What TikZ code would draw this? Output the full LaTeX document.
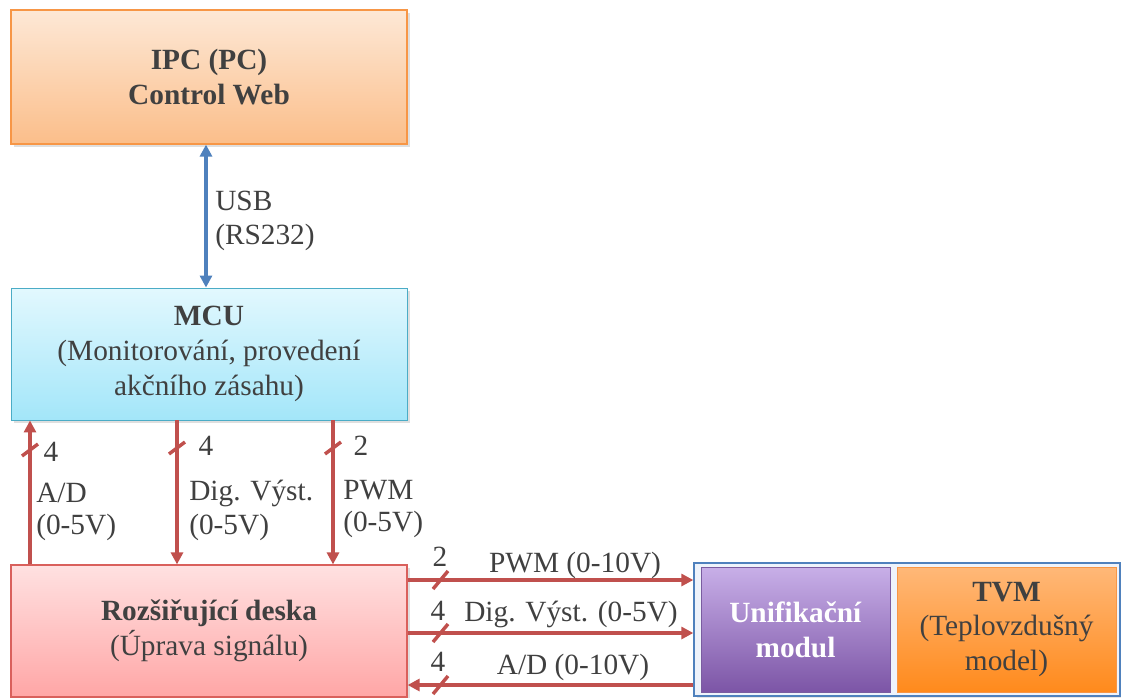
\documentclass[tikz,border=0pt]{standalone}
\usepackage{fontspec}
\setmainfont{Liberation Serif}
\usetikzlibrary{arrows.meta,shadows}

\definecolor{txt}{HTML}{404040}
\definecolor{sigred}{HTML}{C0504D}
\definecolor{usbblue}{HTML}{4F81BD}
\definecolor{ipctop}{HTML}{FDE8D6}
\definecolor{ipcbot}{HTML}{FBBE8A}
\definecolor{ipcline}{HTML}{F79646}
\definecolor{mcutop}{HTML}{E2F8FE}
\definecolor{mcubot}{HTML}{A3E6F9}
\definecolor{mculine}{HTML}{4BACC6}
\definecolor{dsktop}{HTML}{FFE1E1}
\definecolor{dskbot}{HTML}{FFA6A6}
\definecolor{dskline}{HTML}{D9605C}
\definecolor{grpfill}{HTML}{EEF3FB}
\definecolor{unitop}{HTML}{C8AFE8}
\definecolor{unibot}{HTML}{7C55A6}
\definecolor{uniline}{HTML}{7A5CA0}
\definecolor{tvmtop}{HTML}{FFB878}
\definecolor{tvmbot}{HTML}{FF8A1C}

\tikzset{
  x=0.75pt, y=-0.75pt,
  every node/.style={text=txt, font=\fontsize{22}{26}\selectfont},
  blockbox/.style={inner sep=0pt, align=center, line width=0.9pt,
    drop shadow={shadow xshift=2pt, shadow yshift=-2pt, opacity=0.25}},
  ipcbox/.style={blockbox, draw=ipcline, top color=ipctop, bottom color=ipcbot},
  mcubox/.style={blockbox, draw=mculine, line width=0.7pt, top color=mcutop, bottom color=mcubot},
  deskabox/.style={blockbox, draw=dskline, top color=dsktop, bottom color=dskbot},
  groupbox/.style={inner sep=0pt, draw=usbblue, line width=1pt, fill=grpfill,
    drop shadow={shadow xshift=2pt, shadow yshift=-2pt, opacity=0.2}},
  unibox/.style={inner sep=0pt, align=center, draw=uniline, line width=0.7pt,
    top color=unitop, bottom color=unibot, text=white},
  tvmbox/.style={inner sep=0pt, align=center, draw=ipcline, line width=0.7pt,
    top color=tvmtop, bottom color=tvmbot},
  sig/.style={draw=sigred, line width=3pt, -{Triangle[length=9pt,width=9pt]}},
  usb/.style={draw=usbblue, line width=3pt, {Triangle[length=9pt,width=9pt]}-{Triangle[length=9pt,width=9pt]}},
  tick/.style={draw=sigred, line width=2.6pt},
  lbl/.style={inner sep=0pt, anchor=west, align=left},
  num/.style={inner sep=0pt},
}

\begin{document}
\begin{tikzpicture}
\useasboundingbox (0,0) rectangle (1121,697);

% blocks
\node[ipcbox, minimum width=297pt, minimum height=100.5pt] (ipc) at (209,77)
  {\textbf{IPC (PC)}\\\textbf{Control Web}};
\node[mcubox, minimum width=297pt, minimum height=99pt] (mcu) at (209,354)
  {\textbf{MCU}\\(Monitorování, provedení\\akčního zásahu)};
\node[deskabox, minimum width=297pt, minimum height=99pt] (deska) at (209,631)
  {\textbf{Rozšiřující deska}\\(Úprava signálu)};
\node[groupbox, minimum width=319.5pt, minimum height=99.75pt] (grp) at (907,629.5) {};
\node[unibox, minimum width=141.75pt, minimum height=93.75pt] (uni) at (795.5,629.5)
  {\textbf{Unifikační}\\\textbf{modul}};
\node[tvmbox, minimum width=164.25pt, minimum height=93.75pt] (tvm) at (1006.5,629.5)
  {\textbf{TVM}\\(Teplovzdušný\\model)};

% USB link
\draw[usb] (ipc.south -| 206,0) -- (mcu.north -| 206,0);
\node[lbl] at (215,201) {USB};
\node[lbl] at (215,237) {(RS232)};

% MCU <-> expansion board
\draw[sig] (deska.north -| 30,0) -- (mcu.south -| 30,0);
\draw[sig] (mcu.south -| 177,0) -- (deska.north -| 177,0);
\draw[sig] (mcu.south -| 333,0) -- (deska.north -| 333,0);

\draw[tick] (22,456) -- (38,444);
\draw[tick] (169,454) -- (185,442);
\draw[tick] (325,454) -- (341,442);

\node[num] at (51,452) {4};
\node[num] at (206,446) {4};
\node[num] at (361,446) {2};

\node[lbl] at (36,493) {A/D};
\node[lbl] at (36,527) {(0-5V)};
\node[lbl] at (189,493) {Dig. Výst.};
\node[lbl] at (189,527) {(0-5V)};
\node[lbl] at (343,490) {PWM};
\node[lbl] at (343,524) {(0-5V)};

% expansion board <-> unification module
\draw[sig] (deska.east |- 0,580) -- (grp.west |- 0,580);
\draw[sig] (deska.east |- 0,633) -- (grp.west |- 0,633);
\draw[sig] (grp.west |- 0,685) -- (deska.east |- 0,685);

\draw[tick] (433,589) -- (448,571);
\draw[tick] (433,642) -- (448,624);
\draw[tick] (433,694) -- (448,676);

\node[num] at (440,557) {2};
\node[num] at (438,611) {4};
\node[num] at (438,662) {4};

\node[num] at (575,565) {PWM (0-10V)};
\node[num] at (571,614) {Dig. Výst. (0-5V)};
\node[num] at (573,667) {A/D (0-10V)};
\end{tikzpicture}
\end{document}
